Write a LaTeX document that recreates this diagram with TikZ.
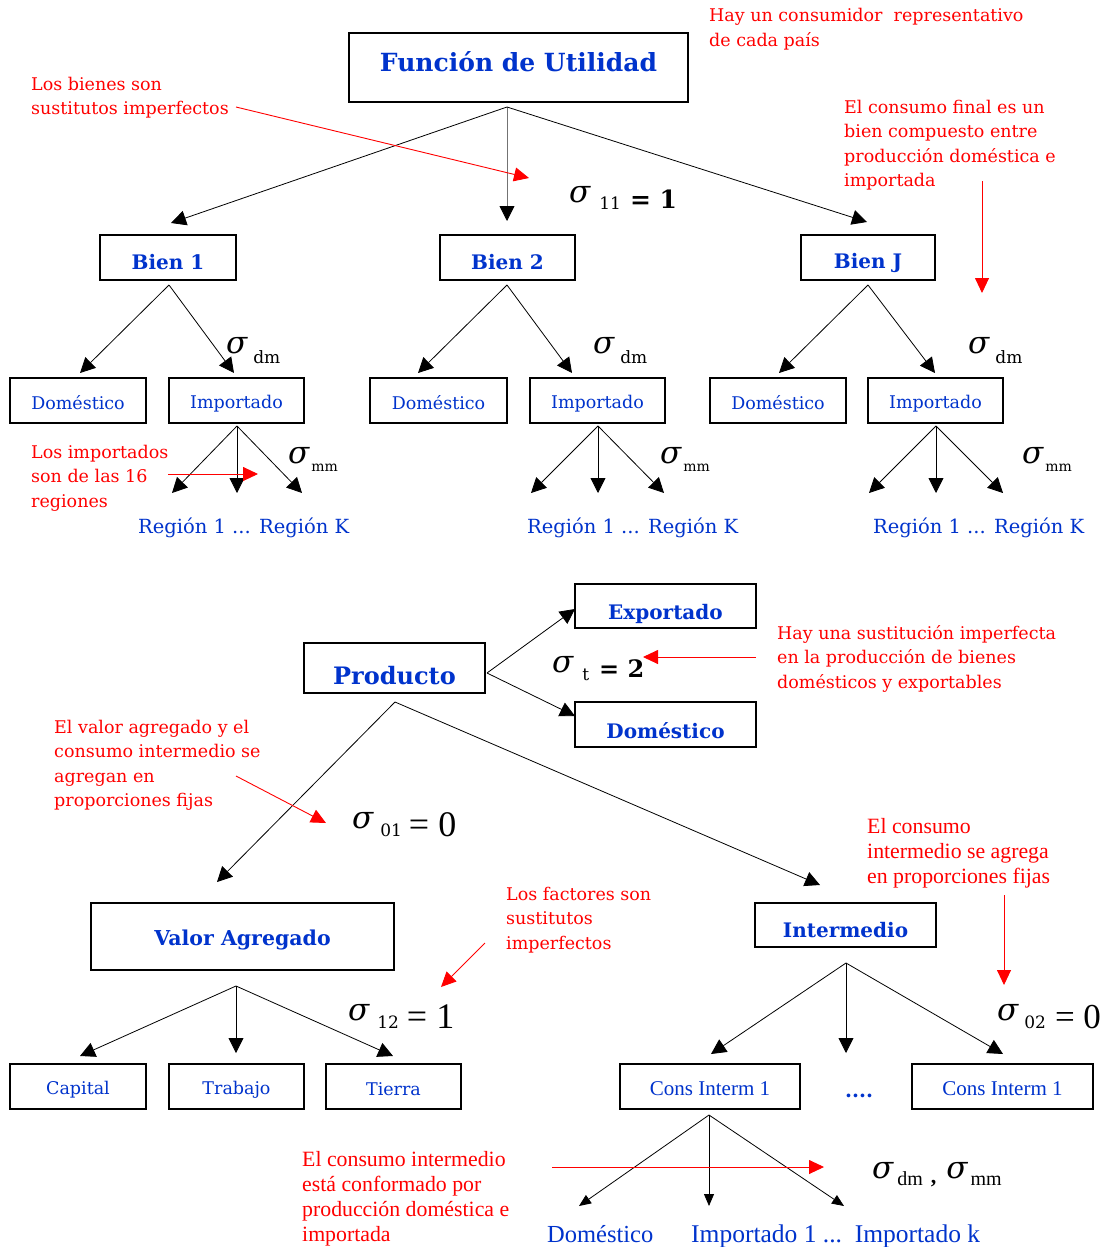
\documentclass[tikz,border=0pt]{standalone}
\usepackage{fontspec}
\setmainfont{DejaVu Serif}
\newfontfamily\tnr{Liberation Serif}
\usetikzlibrary{arrows.meta}
\definecolor{tblue}{RGB}{0,51,204}
\definecolor{tred}{RGB}{255,0,0}
\newcommand\fs[1]{\fontsize{#1}{#1}\selectfont}
\newcommand\sg{{\fs{31}\itshape σ}}
\newcommand\lowr[2]{\raisebox{-#1pt}{#2}}
\newcommand\sh[2]{\raisebox{-#1pt}[\height][\depth]{#2}}
\newcommand\lines[1]{\begin{tabular}[t]{@{}l@{}}#1\end{tabular}}
\begin{document}
\begin{tikzpicture}[x=1pt,y=-1pt,
  box/.style={draw, line width=1.6pt, inner sep=0pt, text=tblue},
  bbig/.style={box, font=\bfseries\fs{20}},
  bsmall/.style={box, minimum width=135, minimum height=45, font=\fs{17.5}},
  note/.style={text=tred, anchor=base west, inner sep=0pt, font=\fontsize{17.5}{24.5}\selectfont},
  cnote/.style={text=tred, anchor=base west, inner sep=0pt, font=\tnr\fontsize{21.8}{25}\selectfont},
  bt/.style={text=tblue, anchor=base west, inner sep=0pt},
  sig/.style={anchor=base west, inner sep=0pt},
  arr/.style={draw=black, line width=0.8pt, -{Triangle[length=15pt,width=15pt,black]}},
  sarr/.style={draw=black, line width=0.8pt, -{Triangle[length=12pt,width=10pt]}},
  rarr/.style={draw=tred, line width=0.9pt, -{Triangle[length=15pt,width=14pt]}}
]
\useasboundingbox[fill=white] (0,0) rectangle (1102,1247);

% ---------- top tree ----------
\node[box, minimum width=339, minimum height=69, font=\bfseries\fs{25}] (fu) at (518.5,67.5) {\sh{-6}{Función de Utilidad}};
\node[bbig, minimum width=136, minimum height=45] (b1) at (168,257.5) {\sh{5}{Bien 1}};
\node[bbig, minimum width=135, minimum height=45] (b2) at (507.5,257.5) {\sh{5}{Bien 2}};
\node[bbig, minimum width=134, minimum height=45] (bJ) at (868,257.5) {\sh{5}{Bien J}};

\node[bsmall, minimum width=136] (d1) at (78,400.5) {\sh{2}{Doméstico}};
\node[bsmall] (i1) at (236.5,400.5) {\sh{3}{Importado}};
\node[bsmall, minimum width=137] (d2) at (438.5,400.5) {\sh{2}{Doméstico}};
\node[bsmall] (i2) at (597.5,400.5) {\sh{3}{Importado}};
\node[bsmall, minimum width=136] (d3) at (778,400.5) {\sh{2}{Doméstico}};
\node[bsmall] (i3) at (935.5,400.5) {\sh{3}{Importado}};

\node[bt, font=\fs{19.5}] (reg1) at (138,533) {Región 1 ... Región K};
\node[bt, font=\fs{19.5}] (reg2) at (527,533) {Región 1 ... Región K};
\node[bt, font=\fs{19.5}] (reg3) at (873,533) {Región 1 ... Región K};

\coordinate (fuO) at (507,107);
\coordinate (b1T) at (171,223);
\coordinate (b2T) at (507,221);
\coordinate (bJT) at (867,222);
\draw[arr] (fuO) -- (b1T);
\draw[arr, draw=black!55] (fuO) -- (b2T);
\draw[arr] (fuO) -- (bJT);

\coordinate (b1O) at (169,285); \coordinate (d1T) at (80,373); \coordinate (i1T) at (234,373);
\coordinate (b2O) at (507,285); \coordinate (d2T) at (418,373); \coordinate (i2T) at (572,373);
\coordinate (bJO) at (868,285); \coordinate (d3T) at (779,373); \coordinate (i3T) at (935,373);
\draw[arr] (b1O) -- (d1T); \draw[arr] (b1O) -- (i1T);
\draw[arr] (b2O) -- (d2T); \draw[arr] (b2O) -- (i2T);
\draw[arr] (bJO) -- (d3T); \draw[arr] (bJO) -- (i3T);

\coordinate (i1O) at (237,426); \coordinate (r1a) at (172,493); \coordinate (r1b) at (237,493); \coordinate (r1c) at (302,493);
\coordinate (i2O) at (598,426); \coordinate (r2a) at (531,493); \coordinate (r2b) at (598,493); \coordinate (r2c) at (664,493);
\coordinate (i3O) at (936,426); \coordinate (r3a) at (869,493); \coordinate (r3b) at (936,493); \coordinate (r3c) at (1003,493);
\foreach \o/\t in {i1O/r1a,i1O/r1b,i1O/r1c,i2O/r2a,i2O/r2b,i2O/r2c,i3O/r3a,i3O/r3b,i3O/r3c}
  \draw[arr] (\o) -- (\t);

% sigma labels top
\node[sig] (s11) at (569,202) {\sg\hspace{9pt}\lowr{7}{\fs{17}11}\hspace{9pt}\lowr{6}{\bfseries\fs{25}= 1}};
\node[sig] (sdm1) at (226,353) {\sg\hspace{6pt}\lowr{10}{\fs{17}dm}};
\node[sig] (sdm2) at (593,353) {\sg\hspace{6pt}\lowr{10}{\fs{17}dm}};
\node[sig] (sdm3) at (968,353) {\sg\hspace{6pt}\lowr{10}{\fs{17}dm}};
\node[sig] (smm1) at (288,463) {\sg\hspace{2pt}\lowr{8}{\fs{14}mm}};
\node[sig] (smm2) at (660,463) {\sg\hspace{2pt}\lowr{8}{\fs{14}mm}};
\node[sig] (smm3) at (1022,463) {\sg\hspace{2pt}\lowr{8}{\fs{14}mm}};

% red notes top
\node[note] (n1) at (709,22) {\lines{Hay un consumidor\ \ representativo\\de cada país}};
\node[note] (n2) at (31,90) {\lines{Los bienes son\\sustitutos imperfectos}};
\node[note] (n3) at (844,113) {\lines{El consumo final es un\\bien compuesto entre\\producción doméstica e\\importada}};
\node[note] (n4) at (31,458) {\lines{Los importados\\son de las 16\\regiones}};

\coordinate (rn1s) at (236,107); \coordinate (rn1e) at (529,178);
\coordinate (rn2s) at (982,181); \coordinate (rn2e) at (982,293);
\coordinate (rn3s) at (168,474); \coordinate (rn3e) at (258,474);
\draw[rarr] (rn1s) -- (rn1e);
\draw[rarr] (rn2s) -- (rn2e);
\draw[rarr] (rn3s) -- (rn3e);

% ---------- bottom tree ----------
\node[box, minimum width=181, minimum height=50, font=\bfseries\fs{24}] (prod) at (394.5,668) {\sh{8}{Producto}};
\node[bbig, minimum width=181, minimum height=44] (exp) at (665.5,606) {\sh{8}{Exportado}};
\node[bbig, minimum width=181, minimum height=45] (dom) at (665.5,724.5) {\sh{6}{Doméstico}};
\node[box, minimum width=303, minimum height=67, font=\bfseries\fs{20.5}] (va) at (242.5,936.5) {\sh{3}{Valor Agregado}};
\node[bbig, minimum width=181, minimum height=44] (int) at (845.5,925) {\sh{5}{Intermedio}};

\node[bsmall, minimum width=136] (cap) at (78,1086.5) {\sh{3}{Capital}};
\node[bsmall] (tra) at (236.5,1086.5) {\sh{3}{Trabajo}};
\node[bsmall] (tie) at (393.5,1086.5) {\sh{3}{Tierra}};
\node[box, minimum width=180, minimum height=45, font=\tnr\fs{21}] (ci1) at (710,1086.5) {\sh{2}{Cons Interm 1}};
\node[box, minimum width=181, minimum height=45, font=\tnr\fs{21}] (ci2) at (1002.5,1086.5) {\sh{2}{Cons Interm 1}};
\node[bt, font=\bfseries\fs{20}] (dots) at (845,1097) {....};

\node[bt, font=\tnr\fs{24.5}] (xdom) at (547,1242) {Doméstico};
\node[bt, font=\tnr\fs{25.5}] (ximp) at (691,1242) {Importado 1 ...\ \ Importado k};

\coordinate (pO) at (487,673); \coordinate (eT) at (575,609); \coordinate (dT) at (575,716);
\draw[arr] (pO) -- (eT); \draw[arr] (pO) -- (dT);
\coordinate (pB) at (395,702); \coordinate (vaT) at (217,882); \coordinate (inT) at (820,885);
\draw[arr] (pB) -- (vaT); \draw[arr] (pB) -- (inT);

\coordinate (vaO) at (236,986); \coordinate (capT) at (80,1056); \coordinate (traT) at (236,1053); \coordinate (tieT) at (393,1056);
\draw[arr] (vaO) -- (capT); \draw[arr] (vaO) -- (traT); \draw[arr] (vaO) -- (tieT);
\coordinate (inO) at (846,963); \coordinate (c1T) at (711,1054); \coordinate (dtT) at (846,1053); \coordinate (c2T) at (1003,1054);
\draw[arr] (inO) -- (c1T); \draw[arr] (inO) -- (dtT); \draw[arr] (inO) -- (c2T);
\coordinate (ciO) at (709,1115); \coordinate (x1) at (579,1206); \coordinate (x2) at (709,1206); \coordinate (x3) at (844,1206);
\draw[sarr] (ciO) -- (x1); \draw[sarr] (ciO) -- (x2); \draw[sarr] (ciO) -- (x3);

% sigma labels bottom
\node[sig] (st) at (552,672) {\sg\hspace{9pt}\lowr{8}{\fs{17}t}\hspace{10pt}\lowr{5}{\bfseries\fs{24}= 2}};
\node[sig] (s01) at (352,828) {\sg\hspace{7pt}\lowr{8}{\fs{17}01}\hspace{7pt}\lowr{8}{\tnr\fs{36}= 0}};
\node[sig] (s12) at (348,1020) {\sg\hspace{8pt}\lowr{8}{\fs{17}12}\hspace{8pt}\lowr{8}{\tnr\fs{36}= 1}};
\node[sig] (s02) at (997,1020) {\sg\hspace{6pt}\lowr{8}{\fs{17}02}\hspace{9pt}\lowr{8}{\tnr\fs{35}= 0}};
\node[sig] (sdmm) at (872,1178) {\sg\hspace{4pt}\lowr{7}{\tnr\fs{20}dm}\hspace{8pt}\lowr{5}{\tnr\fs{22}\bfseries ,}\hspace{10pt}\sg\hspace{3pt}\lowr{7}{\tnr\fs{20}mm}};

% red notes bottom
\node[note] (n5) at (777,639) {\lines{Hay una sustitución imperfecta\\en la producción de bienes\\domésticos y exportables}};
\node[note] (n6) at (54,733) {\lines{El valor agregado y el\\consumo intermedio se\\agregan en\\proporciones fijas}};
\node[cnote] (n7) at (867,833) {\lines{El consumo\\intermedio se agrega\\en proporciones fijas}};
\node[note] (n8) at (506,900) {\lines{Los factores son\\sustitutos\\imperfectos}};
\node[cnote] (n9) at (302,1166) {\lines{El consumo intermedio\\está conformado por\\producción doméstica e\\importada}};

\coordinate (rn4s) at (756,657); \coordinate (rn4e) at (643,657);
\coordinate (rn5s) at (236,776); \coordinate (rn5e) at (326,823);
\coordinate (rn6s) at (1004,895); \coordinate (rn6e) at (1004,985);
\coordinate (rn7s) at (485,943); \coordinate (rn7e) at (441,987);
\coordinate (rn8s) at (552,1167); \coordinate (rn8e) at (824,1167);
\draw[rarr] (rn4s) -- (rn4e);
\draw[rarr] (rn5s) -- (rn5e);
\draw[rarr] (rn6s) -- (rn6e);
\draw[rarr] (rn7s) -- (rn7e);
\draw[rarr] (rn8s) -- (rn8e);
\end{tikzpicture}
\end{document}
